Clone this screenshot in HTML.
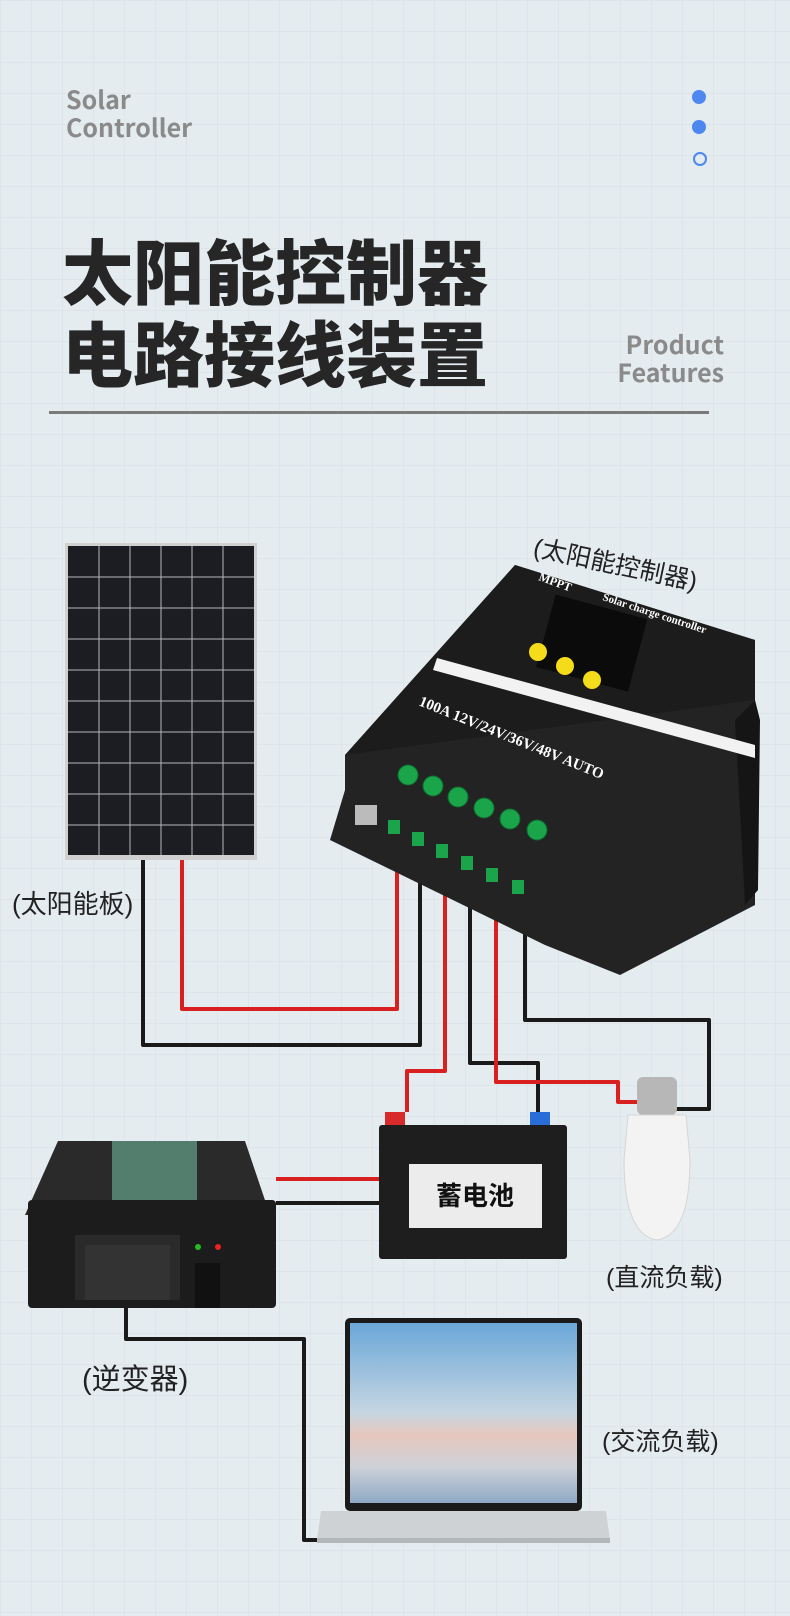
<!DOCTYPE html>
<html><head><meta charset="utf-8"><style>
html,body{margin:0;padding:0}
body{width:790px;height:1616px;position:relative;overflow:hidden;background:#e5ecf0;
background-image:linear-gradient(#dde5ea 1px,transparent 1px),linear-gradient(90deg,#dde5ea 1px,transparent 1px);background-size:31px 31px;
font-family:"Liberation Sans","Noto Sans CJK SC",sans-serif}
.t{position:absolute;white-space:nowrap}
</style></head><body>
<div class="t" style="left:66px;top:85px;font-size:25px;line-height:28px;color:#8a8a8a;font-weight:bold;font-family:'Noto Sans CJK SC',sans-serif">Solar<br>Controller</div>
<div class="t" style="left:692px;top:90px;width:14px;height:14px;border-radius:50%;background:#4d87f0"></div>
<div class="t" style="left:692px;top:120px;width:14px;height:14px;border-radius:50%;background:#4d87f0"></div>
<div class="t" style="left:693px;top:152px;width:10px;height:10px;border-radius:50%;border:2px solid #4d87f0"></div>
<div class="t" style="left:62px;top:228px;font-size:71px;line-height:82px;font-weight:900;color:#262626;font-family:'Noto Sans CJK SC',sans-serif">太阳能控制器<br>电路接线装置</div>
<div class="t" style="left:580px;top:330px;width:144px;text-align:right;font-size:25px;line-height:28px;color:#8a8a8a;font-weight:bold;font-family:'Noto Sans CJK SC',sans-serif">Product<br>Features</div>
<div class="t" style="left:49px;top:411px;width:660px;height:3px;background:#7a7a7a"></div>

<svg class="t" style="left:0;top:0" width="790" height="1616" viewBox="0 0 790 1616">
<g fill="none" stroke-width="4" stroke-linejoin="round">
<path d="M182 860 V1009 H397 V840" stroke="#d92020"/>
<path d="M143 860 V1045 H420 V845" stroke="#1a1a1a"/>
<path d="M445 850 V1071 H407 V1112" stroke="#d92020"/>
<path d="M470 860 V1063 H538 V1112" stroke="#1a1a1a"/>
<path d="M496 870 V1082 H618 V1102 H640" stroke="#d92020"/>
<path d="M525 880 V1020 H709 V1109 H675" stroke="#1a1a1a"/>
<path d="M276 1179 H380" stroke="#d92020"/>
<path d="M276 1203 H380" stroke="#1a1a1a"/>
<path d="M126 1308 V1339 H304 V1540 H332" stroke="#1a1a1a"/>
</g>
<rect x="65" y="543" width="192" height="317" fill="#d0d0d0"/>
<rect x="68" y="546" width="186" height="309" fill="#1c1d22"/>
<g stroke="#b5b8bf" stroke-width="1">
<path d="M99 546V855M130 546V855M161 546V855M192 546V855M223 546V855"/>
<path d="M68 577H254M68 608H254M68 639H254M68 670H254M68 701H254M68 732H254M68 763H254M68 794H254M68 825H254"/>
</g>
<polygon points="515,565 755,640 755,905 620,975 545,945 330,840 345,790 345,755" fill="#232323"/>
<polygon points="515,565 755,640 755,700 345,755" fill="#1c1c1c"/>
<polygon points="755,700 760,720 758,890 745,905 735,720" fill="#151515"/>
<polygon points="437,658 755,745 755,758 433,670" fill="#f2f2f2"/>
<rect x="545" y="605" width="95" height="75" fill="#0b0b0b" transform="rotate(15 590 640)"/>
<circle cx="538" cy="652" r="9" fill="#f5dc1a"/><circle cx="565" cy="666" r="9" fill="#f5dc1a"/><circle cx="592" cy="680" r="9" fill="#f5dc1a"/>
<text x="538" y="580" fill="#fff" font-size="12" font-weight="bold" font-family="Liberation Serif" transform="rotate(20 538 580)">MPPT</text>
<text x="602" y="600" fill="#fff" font-size="11" font-weight="bold" font-family="Liberation Serif" transform="rotate(18 602 600)">Solar charge controller</text>
<text x="418" y="705" fill="#fff" font-size="15" font-weight="bold" font-family="Liberation Serif" transform="rotate(22 418 705)">100A  12V/24V/36V/48V AUTO</text>
<g fill="#1aa54a" stroke="#0d6b2d"><circle cx="408" cy="775" r="10"/><circle cx="433" cy="786" r="10"/><circle cx="458" cy="797" r="10"/><circle cx="484" cy="808" r="10"/><circle cx="510" cy="819" r="10"/><circle cx="537" cy="830" r="10"/></g>
<g fill="#1aa54a"><rect x="388" y="820" width="12" height="14"/><rect x="412" y="832" width="12" height="14"/><rect x="436" y="844" width="12" height="14"/><rect x="461" y="856" width="12" height="14"/><rect x="486" y="868" width="12" height="14"/><rect x="512" y="880" width="12" height="14"/></g>
<rect x="355" y="805" width="22" height="20" fill="#bbb"/>
<rect x="385" y="1112" width="20" height="20" fill="#d82a2a"/><rect x="530" y="1112" width="20" height="20" fill="#2a6dd8"/>
<rect x="379" y="1125" width="188" height="134" rx="3" fill="#1e1e1e"/>
<rect x="409" y="1164" width="133" height="64" fill="#ececec"/>
<text x="475" y="1205" text-anchor="middle" font-size="26" font-weight="bold" fill="#111" font-family="Noto Sans CJK SC">蓄电池</text>
<polygon points="58,1141 245,1141 270,1215 25,1215" fill="#2a2a2a"/>
<rect x="112" y="1141" width="85" height="75" fill="#6fb59b" opacity=".6"/>
<rect x="28" y="1200" width="248" height="108" rx="4" fill="#1c1c1c"/>
<rect x="75" y="1235" width="105" height="65" fill="#2a2a2a"/>
<rect x="85" y="1245" width="85" height="55" fill="#333"/>
<rect x="195" y="1263" width="25" height="45" fill="#111"/>
<circle cx="198" cy="1247" r="3" fill="#2b2"/><circle cx="218" cy="1247" r="3" fill="#e22"/>
<rect x="637" y="1077" width="40" height="38" rx="6" fill="#b7b7b7"/>
<path d="M628 1115 H686 L690 1160 Q690 1235 657 1240 Q624 1235 624 1160 Z" fill="#f3f3f3" stroke="#d5d5d5"/>
<rect x="345" y="1318" width="237" height="193" rx="5" fill="#1a1a1a"/>
<defs><linearGradient id="sk" x1="0" y1="0" x2="0" y2="1"><stop offset="0" stop-color="#6aa7d8"/><stop offset=".5" stop-color="#c6d6e2"/><stop offset=".62" stop-color="#e6c7bd"/><stop offset=".8" stop-color="#cdd1d8"/><stop offset="1" stop-color="#8fa9c6"/></linearGradient></defs>
<rect x="350" y="1323" width="227" height="180" fill="url(#sk)"/>
<polygon points="321,1511 606,1511 610,1540 317,1540" fill="#cfd2d4"/>
<rect x="317" y="1538" width="293" height="5" fill="#b4b7ba"/>
</svg>

<div class="t" style="left:538px;top:528px;font-size:25px;color:#222;transform:rotate(12deg);transform-origin:left top">(太阳能控制器)</div>
<div class="t" style="left:12px;top:884px;font-size:26px;color:#222">(太阳能板)</div>
<div class="t" style="left:606px;top:1258px;font-size:25px;color:#222">(直流负载)</div>
<div class="t" style="left:82px;top:1356px;font-size:29px;color:#222">(逆变器)</div>
<div class="t" style="left:602px;top:1422px;font-size:25px;color:#222">(交流负载)</div>
</body></html>
